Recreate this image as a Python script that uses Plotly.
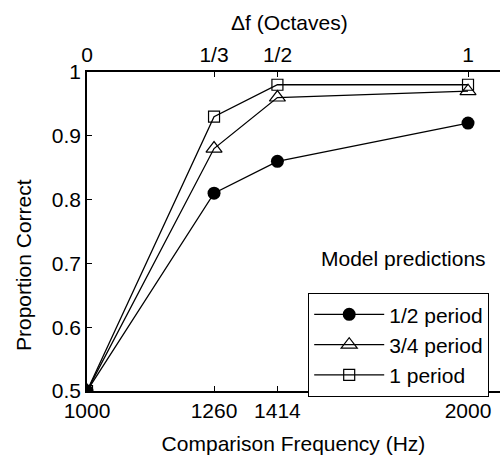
import plotly.graph_objects as go
import numpy as np

# Comparison frequencies (Hz) and model predictions of proportion correct
freqs = [1000, 1260, 1414, 2000]
half_period = [0.50, 0.81, 0.86, 0.92]
three_quarter_period = [0.50, 0.88, 0.96, 0.97]
one_period = [0.50, 0.93, 0.98, 0.98]

x_ticks = [1000, 1260, 1414, 2000]
y_ticks = [0.5, 0.6, 0.7, 0.8, 0.9, 1.0]
oct_ticks = [0, 1 / 3, 0.5, 1]
oct_labels = ["0", "1/3", "1/2", "1"]

FONT = "Liberation Sans, Arial, sans-serif"
FS = 21
X_MIN_LOG = 3.0
X_MAX_LOG = 3.3263

# plot-area geometry in pixels
L, T, W, H = 87, 72, 413, 319


def px_to_paper(px, py):
    return (px - L) / W, (T + H - py) / H


fig = go.Figure()

series = [
    ("1/2 period", half_period, dict(symbol="circle", size=13, color="black")),
    ("3/4 period", three_quarter_period,
     dict(symbol="triangle-up-open", size=14, color="black", line=dict(width=1.2))),
    ("1 period", one_period,
     dict(symbol="square-open", size=11, color="black", line=dict(width=1.2))),
]
for name, vals, marker in series:
    fig.add_trace(go.Scatter(
        x=freqs, y=vals, name=name, mode="lines+markers",
        line=dict(color="black", width=1.3), marker=marker,
    ))

# Octave scale on the top axis (log2 of the frequency ratio)
octaves = np.log2(np.array(freqs) / freqs[0])
fig.add_trace(go.Scatter(x=octaves, y=half_period, xaxis="x2", mode="markers",
                         marker=dict(opacity=0), showlegend=False, hoverinfo="skip"))

axis_common = dict(
    showline=True, linecolor="black", linewidth=1.5, ticks="inside", ticklen=5,
    tickcolor="black", tickwidth=1, showgrid=False, zeroline=False,
    tickfont=dict(family=FONT, size=FS, color="black"),
)

ytitle_x, ytitle_y = px_to_paper(23, 265)
model_x, model_y = px_to_paper(403, 258)
top_x, top_y = px_to_paper(289, 22)

fig.update_layout(
    width=500, height=455,
    margin=dict(l=L, r=500 - L - W, t=T, b=455 - T - H),
    paper_bgcolor="white", plot_bgcolor="white",
    font=dict(family=FONT, size=FS, color="black"),
    showlegend=True,
    xaxis=dict(
        type="log", range=[X_MIN_LOG, X_MAX_LOG],
        tickvals=x_ticks, ticktext=[str(v) for v in x_ticks],
        title=dict(text="Comparison Frequency (Hz)", standoff=17,
                   font=dict(family=FONT, size=FS)),
        **axis_common,
    ),
    xaxis2=dict(
        overlaying="x", side="top", anchor="y",
        range=[0, (X_MAX_LOG - X_MIN_LOG) / np.log10(2)],
        tickvals=oct_ticks, ticktext=oct_labels,
        **axis_common,
    ),
    yaxis=dict(
        range=[0.5, 1.0], tickvals=y_ticks,
        ticktext=["0.5", "0.6", "0.7", "0.8", "0.9", "1"],
        **axis_common,
    ),
    legend=dict(
        x=(308 - L) / W, y=(T + H - 293) / H, xanchor="left", yanchor="top",
        bordercolor="black", borderwidth=1.2, bgcolor="white",
        font=dict(family=FONT, size=FS), itemwidth=70,
        tracegroupgap=0,
    ),
    annotations=[
        dict(text="Proportion Correct", textangle=-90,
             x=ytitle_x, y=ytitle_y, xanchor="center", yanchor="middle",
             xref="paper", yref="paper", showarrow=False,
             font=dict(family=FONT, size=FS)),
        dict(text="Δf (Octaves)", xref="paper", yref="paper",
             x=top_x, y=top_y, xanchor="center", yanchor="middle",
             showarrow=False, font=dict(family=FONT, size=FS)),
        dict(text="Model predictions", xref="paper", yref="paper",
             x=model_x, y=model_y, xanchor="center", yanchor="middle",
             showarrow=False, font=dict(family=FONT, size=FS)),
    ],
)

fig.write_html("out.html")
